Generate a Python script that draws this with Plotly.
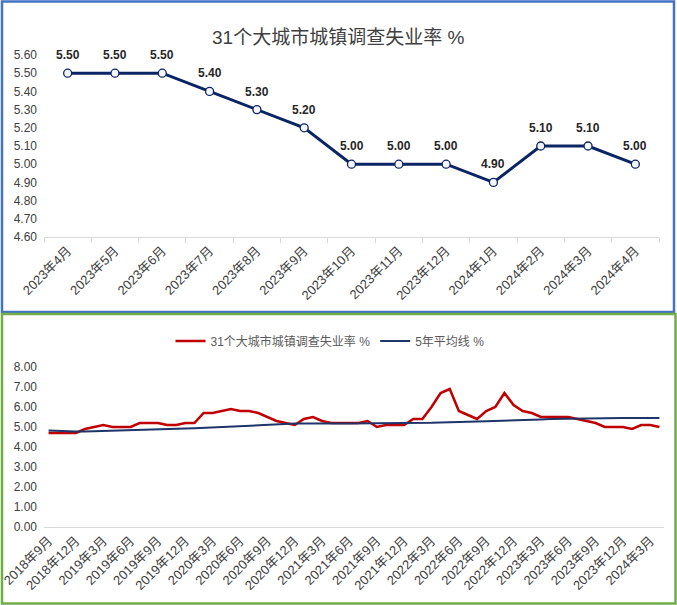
import plotly.graph_objects as go

# 上图：近13个月
top_months = ["2023年4月", "2023年5月", "2023年6月", "2023年7月", "2023年8月",
              "2023年9月", "2023年10月", "2023年11月", "2023年12月", "2024年1月",
              "2024年2月", "2024年3月", "2024年4月"]
top_rate = [5.50, 5.50, 5.50, 5.40, 5.30, 5.20, 5.00, 5.00, 5.00, 4.90, 5.10, 5.10, 5.00]

# 下图：2018年9月 - 2024年4月
months = []
for y in range(2018, 2025):
    for m in range(1, 13):
        if (y == 2018 and m < 9) or (y == 2024 and m > 4):
            continue
        months.append(f"{y}年{m}月")

rate_31 = [4.7, 4.7, 4.7, 4.7,
           4.9, 5.0, 5.1, 5.0, 5.0, 5.0, 5.2, 5.2, 5.2, 5.1, 5.1, 5.2,
           5.2, 5.7, 5.7, 5.8, 5.9, 5.8, 5.8, 5.7, 5.5, 5.3, 5.2, 5.1,
           5.4, 5.5, 5.3, 5.2, 5.2, 5.2, 5.2, 5.3, 5.0, 5.1, 5.1, 5.1,
           5.4, 5.4, 6.0, 6.7, 6.9, 5.8, 5.6, 5.4, 5.8, 6.0, 6.7, 6.1,
           5.8, 5.7, 5.5, 5.5, 5.5, 5.5, 5.4, 5.3, 5.2, 5.0, 5.0, 5.0,
           4.9, 5.1, 5.1, 5.0]
avg_5y = [4.82, 4.80, 4.78, 4.77,
          4.78, 4.79, 4.80, 4.81, 4.82, 4.83, 4.85, 4.86, 4.88, 4.89, 4.91, 4.92,
          4.94, 4.96, 4.99, 5.02, 5.05, 5.07, 5.09, 5.11, 5.13, 5.15, 5.16, 5.17,
          5.17, 5.18, 5.18, 5.18, 5.18, 5.18, 5.18, 5.18, 5.18, 5.18, 5.18, 5.18,
          5.18, 5.19, 5.21, 5.23, 5.25, 5.26, 5.27, 5.28, 5.29, 5.30, 5.32, 5.33,
          5.35, 5.37, 5.38, 5.40, 5.41, 5.42, 5.43, 5.43, 5.44, 5.44, 5.44, 5.45,
          5.45, 5.45, 5.45, 5.45]

title = "31个大城市城镇调查失业率 %"
W, H = 677, 605
FONT = "Liberation Sans, Noto Sans CJK SC, sans-serif"
NAVY = "#0b2463"
RED = "#c00000"
AVG = "#1f3468"
GRAY = "#404040"


def px(x):
    return x / W


def py(y):
    return 1 - y / H


fig = go.Figure()

fig.add_trace(go.Scatter(
    x=top_months, y=top_rate, mode="lines+markers",
    line=dict(color=NAVY, width=3),
    marker=dict(symbol="circle", size=8, color="#f4f6fb", line=dict(color=NAVY, width=1.3)),
    showlegend=False, xaxis="x", yaxis="y",
))

fig.add_trace(go.Scatter(
    x=months, y=rate_31, mode="lines", name="31个大城市城镇调查失业率 %",
    line=dict(color=RED, width=2.5), xaxis="x2", yaxis="y2",
))
fig.add_trace(go.Scatter(
    x=months, y=avg_5y, mode="lines", name="5年平均线 %",
    line=dict(color=AVG, width=2), xaxis="x2", yaxis="y2",
))

annotations = [dict(
    x=m, y=v, xref="x", yref="y", text=f"<b>{v:.2f}</b>", showarrow=False,
    yshift=18, font=dict(size=12, color="#262626", family=FONT),
) for m, v in zip(top_months, top_rate)]
annotations.append(dict(
    x=px(338), y=py(25), xref="paper", yref="paper", text=title, showarrow=False,
    font=dict(size=19, color=GRAY, family=FONT),
))

xtick_font = dict(size=13, color=GRAY, family=FONT)
ytick_font = dict(size=12, color=GRAY, family=FONT)
n = len(months)

fig.update_layout(
    width=W, height=H,
    margin=dict(l=0, r=0, t=0, b=0),
    paper_bgcolor="white", plot_bgcolor="white",
    font=dict(family=FONT),
    annotations=annotations,
    showlegend=True,
    legend=dict(orientation="h", x=px(330), y=py(341), xanchor="center", yanchor="middle",
                font=dict(size=12, color="#595959", family=FONT), itemwidth=30,
                bgcolor="rgba(0,0,0,0)"),
    xaxis=dict(domain=[px(44), px(659)], type="category", tickson="boundaries",
               range=[-0.5, len(top_months) - 0.5],
               ticks="outside", ticklen=5, tickcolor="#d9d9d9",
               showline=True, linecolor="#d9d9d9", linewidth=1, showgrid=False,
               tickangle=-45, tickfont=xtick_font, automargin=False, fixedrange=True),
    yaxis=dict(domain=[py(237), py(55)], range=[4.6, 5.6], dtick=0.1, tickformat=".2f",
               showgrid=False, showline=False, zeroline=False, ticklabelstandoff=6,
               tickfont=ytick_font, automargin=False),
    xaxis2=dict(domain=[px(44), px(664)], type="category", anchor="y2",
                tickmode="array", tickvals=months[::3], ticktext=months[::3],
                ticks="", showline=True, linecolor="#d9d9d9", linewidth=1, showgrid=False,
                range=[-0.5, n - 0.5],
                tickangle=-45, tickfont=xtick_font, automargin=False),
    xaxis3=dict(domain=[px(44), px(664)], overlaying="x2", anchor="y2", side="bottom",
                range=[-0.5, n - 0.5], tickmode="array",
                tickvals=[i - 0.5 for i in range(0, n, 3)],
                ticks="outside", ticklen=5, tickcolor="#d9d9d9", showticklabels=False,
                showgrid=False, showline=False, zeroline=False, automargin=False),
    yaxis2=dict(domain=[py(527), py(367)], range=[0, 8], dtick=1, tickformat=".2f",
                anchor="x2", showgrid=False, showline=False, zeroline=False,
                ticklabelstandoff=6, tickfont=ytick_font, automargin=False),
    shapes=[
        dict(type="rect", xref="paper", yref="paper", x0=px(2), x1=px(674), y0=py(312), y1=py(1.5),
             line=dict(color="#4472c4", width=2.5)),
        dict(type="rect", xref="paper", yref="paper", x0=px(2), x1=px(675.5), y0=py(603.5), y1=py(314),
             line=dict(color="#70ad47", width=2.5)),
    ],
)

# 去掉页面默认的 8px 边距，让图从左上角开始
fig.write_html("out.html", config={"displayModeBar": False},
               post_script="document.body.style.margin='0';")
